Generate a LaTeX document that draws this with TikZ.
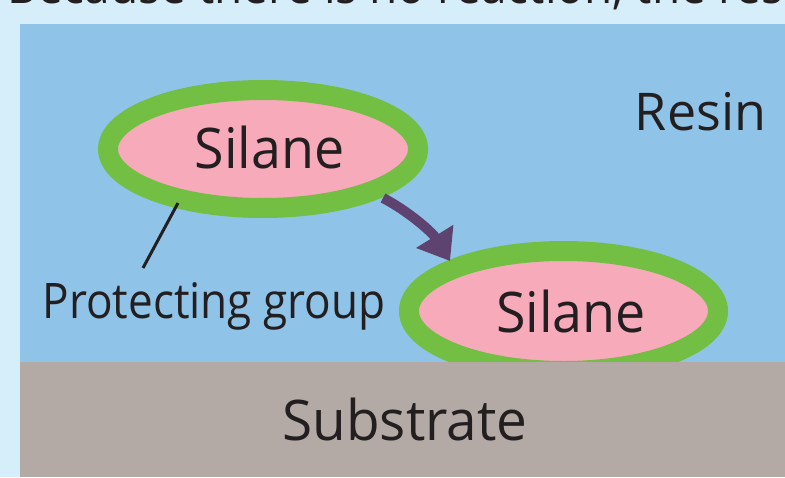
\documentclass[tikz,border=0pt]{standalone}
\usepackage{graphicx}
\usepackage{fontspec}
\setmainfont{Open Sans}
\usetikzlibrary{arrows.meta,shapes.geometric}
\definecolor{bgblue}{RGB}{214,238,250}
\definecolor{resinblue}{RGB}{143,196,232}
\definecolor{substgray}{RGB}{179,170,166}
\definecolor{ringgreen}{RGB}{114,191,68}
\definecolor{silpink}{RGB}{246,170,186}
\definecolor{arrpurple}{RGB}{94,67,112}
\definecolor{txtc}{RGB}{35,31,32}
\begin{document}
\begin{tikzpicture}[x=1pt,y=-1pt,
  lbl/.style={text=txtc, inner sep=0pt, anchor=base},
  silring/.style={ellipse, draw=ringgreen, line width=20pt, fill=silpink, inner sep=0pt},
  arr/.style={draw=arrpurple, line width=10pt, -{Triangle[length=29pt,width=42pt]}},
  leader/.style={draw=txtc, line width=3pt}]
\useasboundingbox (0,0) rectangle (785,477);
\fill[bgblue] (0,0) rectangle (785,477);
\begin{scope}
\clip (0,0) rectangle (785,477);
\node[lbl, anchor=base west] (top) at (7,3) {\scalebox{0.92}[1]{\fontsize{50}{56}\selectfont Because there is no reaction, the resin}};
\end{scope}
\fill[resinblue] (20,24) rectangle (785,362);
% silane molecules
\node[silring, minimum width=310pt, minimum height=118pt] (s1) at (263,149) {};
\node[silring, minimum width=309pt, minimum height=120pt] (s2) at (563.5,311) {};
% substrate
\fill[substgray] (20,362) rectangle (785,477);
% labels
\node[lbl] (t1) at (269.5,168) {\scalebox{0.96}[1]{\fontsize{56}{60}\selectfont Silane}};
\node[lbl] (t2) at (571,332) {\scalebox{0.96}[1]{\fontsize{56}{60}\selectfont Silane}};
\node[lbl] (pg) at (214,318) {\scalebox{0.9}[1]{\fontsize{49}{55}\selectfont Protecting group}};
\node[lbl] (resin) at (700.5,130) {\fontsize{52}{58}\selectfont Resin};
\node[lbl] (sub) at (405,440) {\scalebox{0.98}[1]{\fontsize{56}{60}\selectfont Substrate}};
% connectors
\coordinate (a1) at (383,198);
\coordinate (a2) at (450,261);
\draw[arr] (a1) .. controls (408,211) and (432,232) .. (a2);
\coordinate (l1) at (178,203);
\coordinate (l2) at (143,268);
\draw[leader] (l1) -- (l2);
\end{tikzpicture}
\end{document}
